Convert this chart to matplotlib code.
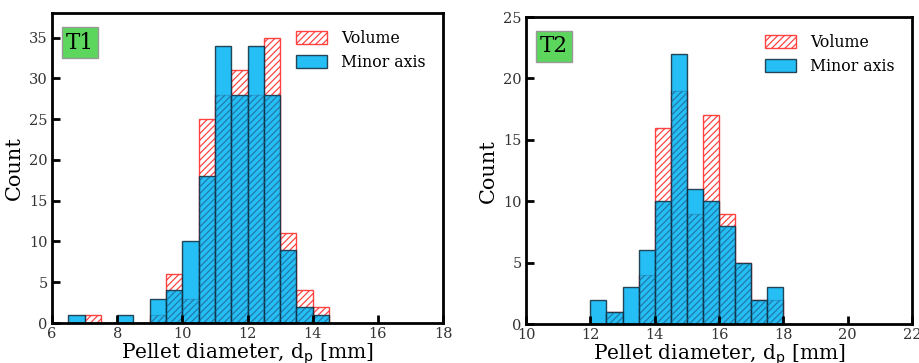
import matplotlib
matplotlib.use('Agg')
import matplotlib.pyplot as plt
import numpy as np

plt.rcParams['font.family'] = 'DejaVu Serif'
plt.rcParams['hatch.linewidth'] = 0.9

# T1 histogram, bin width 0.5 mm starting at 6.5
t1_edges = np.arange(6.5, 15.0, 0.5)
t1_minor = [1, 0, 0, 1, 0, 3, 4, 10, 18, 34, 28, 34, 28, 9, 2, 1]
t1_volume = [0, 1, 0, 0, 0, 1, 6, 3, 25, 28, 31, 28, 35, 11, 4, 2]

# T2 histogram, bin width 0.5 mm starting at 12
t2_edges = np.arange(12.0, 18.5, 0.5)
t2_minor = [2, 1, 3, 6, 10, 22, 11, 10, 8, 5, 2, 3]
t2_volume = [0, 1, 0, 4, 16, 19, 9, 17, 9, 5, 2, 2]

BLUE = '#00b4f4'
RED = '#ff3030'


def draw(ax, edges, volume, minor, xlim, ylim, xticks, yticks, tag):
    left = edges[:-1]
    ax.bar(left, volume, width=0.5, align='edge', facecolor='none',
           edgecolor=RED, hatch='/////', linewidth=1, label='Volume', alpha=0.9)
    ax.bar(left, minor, width=0.5, align='edge', facecolor=BLUE,
           edgecolor='#0f2a3a', linewidth=1, alpha=0.85, label='Minor axis')
    # hatch of the volume bars seen through the blue bars
    overlap = np.minimum(volume, minor)
    ax.bar(left, overlap, width=0.5, align='edge', facecolor='none',
           edgecolor='#1a5f86', hatch='/////', linewidth=0, alpha=0.55)
    ax.set_xlim(xlim)
    ax.set_ylim(ylim)
    ax.set_xticks(xticks)
    ax.set_yticks(yticks)
    ax.tick_params(direction='in', length=6, width=2, labelsize=10.5,
                   colors='black', labelcolor='#333333', pad=3)
    for s in ax.spines.values():
        s.set_linewidth(2)
    ax.set_xlabel('Pellet diameter, d$_\\mathrm{p}$ [mm]', fontsize=14.5, labelpad=0)
    ax.set_ylabel('Count', fontsize=15, labelpad=4)
    ax.text(0.036, 0.94, tag, transform=ax.transAxes, fontsize=15.5, va='top', ha='left',
            bbox=dict(boxstyle='square,pad=0.2', facecolor='#5dd65d', edgecolor='#999999'))
    ax.legend(loc='upper right', frameon=False, fontsize=11.3, handlelength=2.0,
              handleheight=0.9, handletextpad=0.9, borderaxespad=0.7, labelspacing=0.45)


fig = plt.figure(figsize=(9.19, 3.63), dpi=100)
ax1 = fig.add_axes([0.0566, 0.110, 0.4255, 0.854])
ax2 = fig.add_axes([0.5724, 0.107, 0.420, 0.846])

draw(ax1, t1_edges, t1_volume, t1_minor, (6, 18), (0, 38),
     np.arange(6, 19, 2), np.arange(0, 36, 5), 'T1')
draw(ax2, t2_edges, t2_volume, t2_minor, (10, 22), (0, 25),
     np.arange(10, 23, 2), np.arange(0, 26, 5), 'T2')

fig.savefig('out.png', dpi=100)
